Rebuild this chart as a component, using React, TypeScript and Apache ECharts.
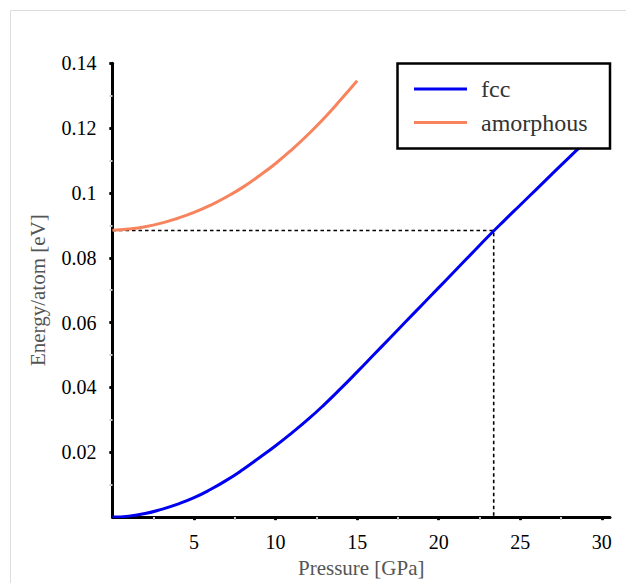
import React, { useEffect, useRef } from "react";
import * as echarts from "echarts";

// Pressure [GPa] sample points
const fccPressure = [0, 1, 2, 3, 4, 5, 6, 7, 8, 9, 10, 11, 12, 13, 14, 15, 16, 17, 18, 19, 20, 21, 22, 23, 24, 25, 26, 27, 28, 29, 30];
// Energy/atom [eV] for fcc
const fccEnergy = [0, 0.0003, 0.0011, 0.0024, 0.004, 0.006, 0.0085, 0.0114, 0.0147, 0.0183, 0.022, 0.026, 0.0302, 0.0348, 0.0397, 0.0448, 0.05, 0.0552, 0.0604, 0.0656, 0.0708, 0.076, 0.0812, 0.0864, 0.0914, 0.0963, 0.1012, 0.1061, 0.111, 0.1158, 0.1206];

const amorphousPressure = [0, 1, 2, 3, 4, 5, 6, 7, 8, 9, 10, 11, 12, 13, 14, 15];
const amorphousEnergy = [0.0885, 0.0889, 0.0896, 0.0907, 0.0922, 0.094, 0.0962, 0.0988, 0.1018, 0.1053, 0.1091, 0.1134, 0.1181, 0.1232, 0.1288, 0.1346];

// Dashed guide: transition point
const guideX = [0, 23.37, 23.37];
const guideY = [0.0884, 0.0884, 0];

const xMajorTicks = [5, 10, 15, 20, 25, 30];
const xMinorTicks = [2.5, 7.5, 12.5, 17.5, 22.5, 27.5];
const yMajorTicks = [0.02, 0.04, 0.06, 0.08, 0.1, 0.12, 0.14];
const yMinorTicks = [0.01, 0.03, 0.05, 0.07, 0.09, 0.11, 0.13];

const seriesNames = ["fcc", "amorphous"];
const seriesColors = ["#0000f0", "#f7845c"];

const X_MAX = 30.5;
const Y_MAX = 0.14;

export default function App() {
  const ref = useRef<HTMLDivElement>(null);
  useEffect(() => {
    if (!ref.current) return;
    const chart = echarts.init(ref.current, undefined, { renderer: "svg" });
    const serif = "Liberation Serif";
    const grid = { left: 112.5, top: 63.3, width: 497.5, height: 460.2 };
    const fmt = (v: number) => `{n|${String(Number(v.toFixed(2)))}}`;
    const numRich = { n: { fontFamily: serif, fontSize: 20, color: "#000000" } };

    const xBase = { type: "value", min: 0, max: X_MAX, gridIndex: 0, splitLine: { show: false } };
    const yBase = { type: "value", min: 0, max: Y_MAX, gridIndex: 0, splitLine: { show: false } };

    const option: any = {
      animation: false,
      backgroundColor: "#ffffff",
      textStyle: { fontFamily: serif },
      grid,
      graphic: [
        { type: "line", shape: { x1: 10.5, y1: 10.5, x2: 626, y2: 10.5 }, style: { stroke: "#dddddd", lineWidth: 1 }, silent: true },
        { type: "line", shape: { x1: 10.5, y1: 10.5, x2: 10.5, y2: 583 }, style: { stroke: "#dddddd", lineWidth: 1 }, silent: true },
        {
          type: "rect",
          z: 3,
          shape: { x: 397.5, y: 63.5, width: 212.5, height: 85 },
          style: { fill: "#ffffff", stroke: "#000000", lineWidth: 2.5 },
          silent: true,
        },
      ],
      legend: {
        data: seriesNames,
        orient: "vertical",
        left: 414,
        top: 77,
        padding: 0,
        itemWidth: 53,
        itemHeight: 3,
        itemGap: 9.5,
        icon: "rect",
        z: 5,
        formatter: (name: string) => `{t|${name}}`,
        textStyle: {
          fontFamily: serif,
          fontSize: 24,
          color: "#333333",
          rich: {
            t: { fontFamily: serif, fontSize: 24, lineHeight: 24, color: "#333333", padding: [0, 0, 0, 9] },
          },
        },
      },
      xAxis: [
        {
          ...xBase,
          name: "Pressure [GPa]",
          nameLocation: "middle",
          nameGap: 34,
          nameTextStyle: { fontFamily: serif, fontSize: 21, color: "#555555" },
          axisLine: { show: true, lineStyle: { color: "#000000", width: 3 } },
          axisTick: { show: true, inside: false, length: 3, customValues: xMajorTicks, lineStyle: { color: "#000000", width: 2.5 } },
          axisLabel: {
            show: true,
            customValues: xMajorTicks,
            margin: 15,
            fontFamily: serif,
            fontSize: 20,
            color: "#000000",
            formatter: fmt,
            rich: numRich,
          },
        },
        {
          ...xBase,
          axisLine: { show: false },
          axisLabel: { show: false },
          axisTick: { show: true, inside: true, length: 3, customValues: xMajorTicks, lineStyle: { color: "#000000", width: 2.5 } },
        },
        {
          ...xBase,
          axisLine: { show: false },
          axisLabel: { show: false },
          axisTick: { show: true, inside: true, length: 3, customValues: xMinorTicks, lineStyle: { color: "#c8c8c8", width: 2 } },
        },
      ],
      yAxis: [
        {
          ...yBase,
          name: "Energy/atom [eV]",
          nameLocation: "middle",
          nameGap: 64,
          nameTextStyle: { fontFamily: serif, fontSize: 21, color: "#555555" },
          axisLine: { show: true, lineStyle: { color: "#000000", width: 3 } },
          axisTick: { show: true, inside: false, length: 3, customValues: yMajorTicks, lineStyle: { color: "#000000", width: 2.5 } },
          axisLabel: {
            show: true,
            customValues: yMajorTicks,
            margin: 16,
            fontFamily: serif,
            fontSize: 20,
            color: "#000000",
            formatter: fmt,
            rich: numRich,
          },
        },
        {
          ...yBase,
          axisLine: { show: false },
          axisLabel: { show: false },
          axisTick: { show: true, inside: true, length: 3, customValues: yMajorTicks, lineStyle: { color: "#000000", width: 2.5 } },
        },
        {
          ...yBase,
          axisLine: { show: false },
          axisLabel: { show: false },
          axisTick: { show: true, inside: true, length: 3, customValues: yMinorTicks, lineStyle: { color: "#c8c8c8", width: 2 } },
        },
      ],
      series: [
        {
          name: "guide",
          type: "line",
          xAxisIndex: 0,
          yAxisIndex: 0,
          data: guideX.map((x, i) => [x, guideY[i]]),
          showSymbol: false,
          symbol: "none",
          lineStyle: { color: "#000000", width: 1.6, type: [3.5, 3] },
          z: 1,
          silent: true,
        },
        {
          name: seriesNames[0],
          type: "line",
          xAxisIndex: 0,
          yAxisIndex: 0,
          data: fccPressure.map((x, i) => [x, fccEnergy[i]]),
          smooth: true,
          symbol: "none",
          color: seriesColors[0],
          lineStyle: { color: seriesColors[0], width: 3 },
          z: 2,
        },
        {
          name: seriesNames[1],
          type: "line",
          xAxisIndex: 0,
          yAxisIndex: 0,
          data: amorphousPressure.map((x, i) => [x, amorphousEnergy[i]]),
          smooth: true,
          symbol: "none",
          color: seriesColors[1],
          lineStyle: { color: seriesColors[1], width: 3 },
          z: 2,
        },
      ],
    };
    chart.setOption(option);
    return () => chart.dispose();
  }, []);
  return (
    <div
      ref={ref}
      style={{ position: "absolute", left: 0, top: 0, width: 626, height: 583 }}
    />
  );
}
